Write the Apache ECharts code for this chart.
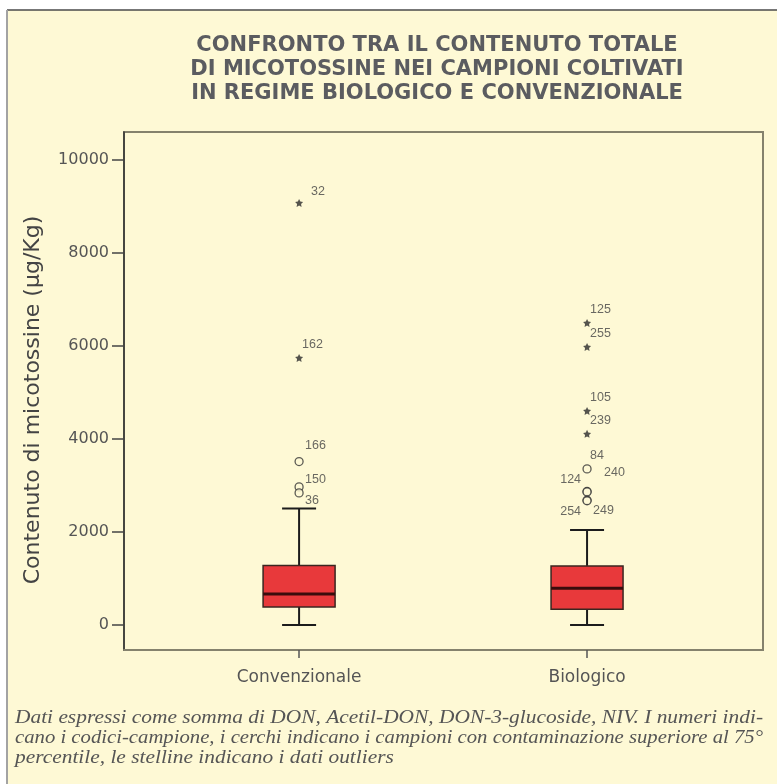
<!DOCTYPE html>
<html>
<head>
<meta charset="utf-8">
<title>Micotossine</title>
<script src="https://cdn.jsdelivr.net/npm/echarts@6/dist/echarts.min.js"></script>
<style>
html, body { margin: 0; padding: 0; background: #fff; }
#boxChart { width: 777px; height: 784px; }
</style>
</head>
<body>
<div id="boxChart"></div>
<script>
var groups = ['Convenzionale', 'Biologico'];
// [min, Q1, mediana, Q3, max] in µg/Kg
var convBox = [0, 387, 667, 1275, 2501];
var bioBox = [0, 338, 789, 1269, 2043];

// outliers (stelline) e valori sopra il 75° percentile (cerchi)
var convStarIds = ['32', '162'];
var convStarVals = [9075, 5742];
var convCircleIds = ['166', '150', '36'];
var convCircleVals = [3512, 2968, 2839];

var bioStarIds = ['125', '255', '105', '239'];
var bioStarVals = [6495, 5978, 4602, 4108];
var bioCircleIds = ['84', '240', '124', '254', '249'];
var bioCircleVals = [3355, 2870, 2860, 2680, 2670];

var yTicks = [0, 2000, 4000, 6000, 8000, 10000];

var titleText = 'CONFRONTO TRA IL CONTENUTO TOTALE\nDI MICOTOSSINE NEI CAMPIONI COLTIVATI\nIN REGIME BIOLOGICO E CONVENZIONALE';
var noteLines = [
    'Dati espressi come somma di DON, Acetil-DON, DON-3-glucoside, NIV. I numeri indi-',
    'cano i codici-campione, i cerchi indicano i campioni con contaminazione superiore al 75°',
    'percentile, le stelline indicano i dati outliers'
];

function drawBoxChart() {
    var dom = document.getElementById('boxChart');
    var chart = echarts.init(dom);

    // spostamenti delle etichette dei punti (px)
    var labelNudge = {
        '32': [12, -11], '166': [6, -16], '150': [6, -7], '36': [6, 8],
        '240': [17, -19], '124': [-6, -12], '254': [-6, 11], '249': [6, 10]
    };
    var defaultNudge = [3, -13];

    function points(x, vals, ids) {
        var list = [];
        for (var i = 0; i < vals.length; i++) {
            var n = labelNudge[ids[i]] || defaultNudge;
            list.push({
                name: ids[i],
                value: [x, vals[i]],
                label: { offset: n, align: n[0] < 0 ? 'right' : 'left' }
            });
        }
        return list;
    }

    function renderBox(params, api) {
        var x = api.value(0);
        var p = [];
        for (var d = 1; d <= 5; d++) {
            p.push(api.coord([x, api.value(d)]));
        }
        var cx = p[0][0];
        var half = 36, cap = 17;
        var ws = { stroke: '#1c1c1c', lineWidth: 2 };
        return {
            type: 'group',
            children: [
                { type: 'line', shape: { x1: cx, y1: p[0][1], x2: cx, y2: p[1][1] }, style: ws },
                { type: 'line', shape: { x1: cx, y1: p[3][1], x2: cx, y2: p[4][1] }, style: ws },
                { type: 'line', shape: { x1: cx - cap, y1: p[0][1], x2: cx + cap, y2: p[0][1] }, style: ws },
                { type: 'line', shape: { x1: cx - cap, y1: p[4][1], x2: cx + cap, y2: p[4][1] }, style: ws },
                {
                    type: 'rect',
                    shape: { x: cx - half, y: p[3][1], width: half * 2, height: p[1][1] - p[3][1] },
                    style: { fill: '#e8393b', stroke: '#3a2620', lineWidth: 1.5 }
                },
                {
                    type: 'line',
                    shape: { x1: cx - half, y1: p[2][1], x2: cx + half, y2: p[2][1] },
                    style: { stroke: '#3a0c0c', lineWidth: 3 }
                }
            ]
        };
    }

    // nota in calce: righe giustificate allargando il testo
    var noteFont = 'italic 18px "Liberation Serif"';
    var measure = document.createElement('canvas').getContext('2d');
    measure.font = noteFont;
    function lineScale(text) {
        return 748 / measure.measureText(text).width;
    }
    var s1 = lineScale(noteLines[0]);
    var s2 = lineScale(noteLines[1]);
    var noteScales = [s1, s2, s1];
    var noteEls = [];
    for (var k = 0; k < noteLines.length; k++) {
        noteEls.push({
            type: 'text',
            x: 15,
            y: 709 + k * 20,
            scaleX: noteScales[k],
            style: {
                text: noteLines[k],
                fontFamily: 'Liberation Serif',
                fontStyle: 'italic',
                fontSize: 18,
                fill: '#555'
            }
        });
    }

    var pointLabel = {
        show: true,
        position: 'inside',
        verticalAlign: 'middle',
        formatter: '{b}',
        fontFamily: 'Liberation Sans',
        fontSize: 12.5,
        color: '#444'
    };
    var starPath = 'path://M0,-10L2.9,-4L9.5,-3.1L4.7,1.5L5.9,8.1L0,5L-5.9,8.1L-4.7,1.5L-9.5,-3.1L-2.9,-4Z';

    var option = {
        backgroundColor: '#fef9d5',
        animation: false,
        grid: {
            left: 124,
            top: 132,
            right: 14,
            bottom: 134,
            show: true,
            borderColor: '#85826d',
            borderWidth: 2,
            backgroundColor: 'transparent'
        },
        xAxis: {
            type: 'value',
            min: -0.608,
            max: 1.611,
            axisLine: { show: true, onZero: false, lineStyle: { color: '#85826d', width: 2 } },
            axisTick: { show: true, customValues: [0, 1], length: 8, lineStyle: { color: '#555', width: 1.5 } },
            axisLabel: {
                customValues: [0, 1],
                formatter: function (v) { return groups[v]; },
                fontFamily: 'DejaVu Sans',
                fontSize: 17,
                color: '#555',
                margin: 19
            },
            splitLine: { show: false }
        },
        yAxis: {
            type: 'value',
            min: -540,
            max: 10600,
            name: 'Contenuto di micotossine (µg/Kg)',
            nameLocation: 'middle',
            nameGap: 80,
            nameTextStyle: { fontFamily: 'DejaVu Sans', fontSize: 22, color: '#444', padding: [0, 18, 0, 0] },
            axisLine: { show: true, onZero: false, lineStyle: { color: '#333', width: 1.5 } },
            axisTick: { show: true, customValues: yTicks, length: 12, lineStyle: { color: '#444', width: 1.5 } },
            axisLabel: {
                customValues: yTicks,
                formatter: function (v) { return String(v); },
                fontFamily: 'DejaVu Sans',
                fontSize: 16,
                color: '#555',
                margin: 15
            },
            splitLine: { show: false }
        },
        graphic: [
            { type: 'rect', shape: { x: 0, y: 0, width: 777, height: 10 }, style: { fill: '#fff' } },
            { type: 'rect', shape: { x: 0, y: 0, width: 7, height: 784 }, style: { fill: '#fff' } },
            { type: 'line', shape: { x1: 7, y1: 10, x2: 777, y2: 10 }, style: { stroke: '#4a4a4a', lineWidth: 1.5 } },
            { type: 'line', shape: { x1: 7, y1: 10, x2: 7, y2: 784 }, style: { stroke: '#a3a3a3', lineWidth: 2 } },
            {
                type: 'text',
                x: 437,
                y: 34,
                style: {
                    text: titleText,
                    textAlign: 'center',
                    fontFamily: 'DejaVu Sans',
                    fontWeight: 'bold',
                    fontSize: 21,
                    lineHeight: 24,
                    fill: '#5b5c60'
                }
            }
        ].concat(noteEls),
        series: [
            {
                type: 'custom',
                renderItem: renderBox,
                encode: { x: 0, y: [1, 2, 3, 4, 5] },
                data: [[0].concat(convBox), [1].concat(bioBox)],
                z: 2
            },
            {
                type: 'scatter',
                symbol: starPath,
                symbolSize: 8,
                itemStyle: { color: '#2a2a2a' },
                label: pointLabel,
                data: points(0, convStarVals, convStarIds).concat(points(1, bioStarVals, bioStarIds)),
                z: 3
            },
            {
                type: 'scatter',
                symbol: 'circle',
                symbolSize: 8,
                itemStyle: { color: '#fef9d5', borderColor: '#333', borderWidth: 1.3 },
                label: pointLabel,
                data: points(0, convCircleVals, convCircleIds).concat(points(1, bioCircleVals, bioCircleIds)),
                z: 3
            }
        ]
    };

    chart.setOption(option);
    window.addEventListener('resize', function () {
        chart.resize();
    });
}

drawBoxChart();
</script>
</body>
</html>
